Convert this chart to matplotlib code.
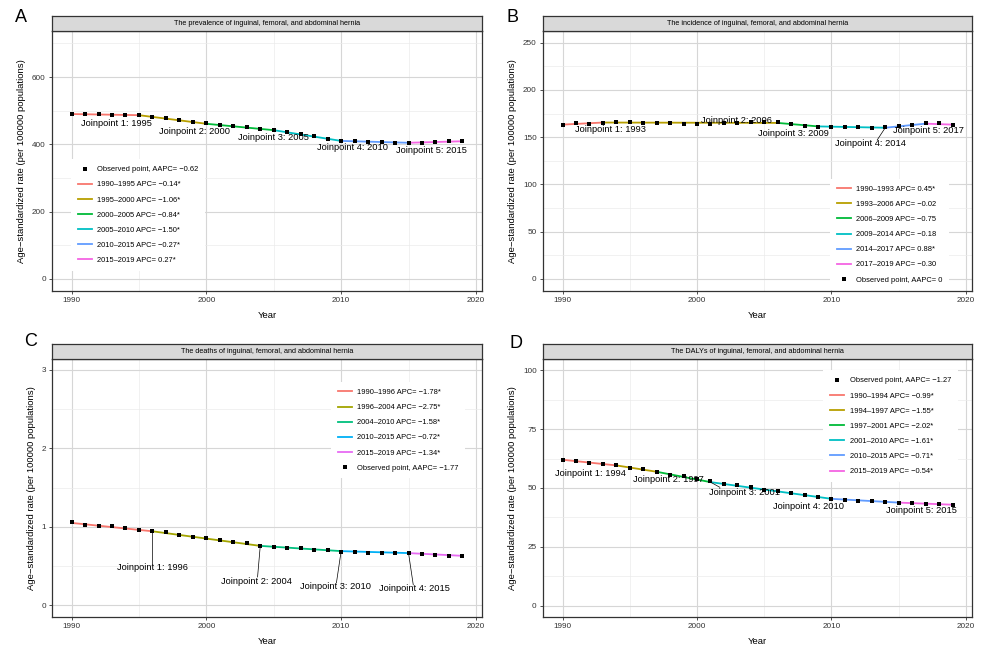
import numpy as np
import matplotlib.pyplot as plt
from matplotlib.lines import Line2D

plt.rcParams['font.family'] = ['Liberation Sans', 'DejaVu Sans']

years = np.arange(1990, 2020)

# ---- A: prevalence
prev_obs = [490, 490, 489, 488, 488, 487, 482, 478, 472, 467,
            462, 458, 454, 450, 446, 442, 436, 430, 424, 416,
            410, 410, 407, 406, 404, 403, 405, 406, 410, 410]
prev_jp_years = [1990, 1995, 2000, 2005, 2010, 2015, 2019]
prev_jp_fit = [490, 486.6, 461, 442, 410, 404.5, 409]
prev_seg_labels = ["1990\u20131995 APC= \u22120.14*", "1995\u20132000 APC= \u22121.06*",
                   "2000\u20132005 APC= \u22120.84*", "2005\u20132010 APC= \u22121.50*",
                   "2010\u20132015 APC= \u22120.27*", "2015\u20132019 APC= 0.27*"]
prev_obs_label = "Observed point, AAPC= \u22120.62"

# ---- B: incidence
inc_obs = [163.4, 164.8, 164.4, 165.5, 165.6, 165.6, 165.5, 165.4, 165.2, 164.2,
           164.2, 164.3, 165.0, 165.4, 165.6, 165.7, 165.8, 164.4, 162.3, 161.2,
           161.0, 161.0, 160.5, 160.0, 160.5, 161.6, 162.6, 164.8, 164.8, 163.4]
inc_jp_years = [1990, 1993, 2006, 2009, 2014, 2017, 2019]
inc_jp_fit = [163.3, 165.5, 165.1, 161.4, 160.0, 164.3, 163.3]
inc_seg_labels = ["1990\u20131993 APC= 0.45*", "1993\u20132006 APC= \u22120.02",
                  "2006\u20132009 APC= \u22120.75", "2009\u20132014 APC= \u22120.18",
                  "2014\u20132017 APC= 0.88*", "2017\u20132019 APC= \u22120.30"]
inc_obs_label = "Observed point, AAPC= 0"

# ---- C: deaths
death_obs = [1.057, 1.027, 1.014, 1.006, 0.989, 0.963, 0.942, 0.929, 0.900, 0.874,
             0.853, 0.827, 0.802, 0.789, 0.760, 0.747, 0.734, 0.726, 0.709, 0.700,
             0.683, 0.683, 0.670, 0.670, 0.670, 0.662, 0.653, 0.645, 0.632, 0.632]
death_jp_years = [1990, 1996, 2004, 2010, 2015, 2019]
death_jp_fit = [1.050, 0.943, 0.757, 0.690, 0.665, 0.630]
death_seg_labels = ["1990\u20131996 APC= \u22121.78*", "1996\u20132004 APC= \u22122.75*",
                    "2004\u20132010 APC= \u22121.58*", "2010\u20132015 APC= \u22120.72*",
                    "2015\u20132019 APC= \u22121.34*"]
death_obs_label = "Observed point, AAPC= \u22121.77"

# ---- D: DALYs
daly_obs = [62.0, 61.5, 60.8, 60.3, 59.6, 58.7, 57.9, 57.0, 55.7, 55.0,
            53.7, 52.9, 51.9, 51.2, 50.3, 49.3, 48.6, 47.8, 46.9, 46.1,
            45.4, 44.9, 44.5, 44.5, 44.2, 43.8, 43.5, 43.4, 43.4, 42.8]
daly_jp_years = [1990, 1994, 1997, 2001, 2010, 2015, 2019]
daly_jp_fit = [62.0, 59.6, 56.9, 52.5, 45.4, 43.8, 42.9]
daly_seg_labels = ["1990\u20131994 APC= \u22120.99*", "1994\u20131997 APC= \u22121.55*",
                   "1997\u20132001 APC= \u22122.02*", "2001\u20132010 APC= \u22121.61*",
                   "2010\u20132015 APC= \u22120.71*", "2015\u20132019 APC= \u22120.54*"]
daly_obs_label = "Observed point, AAPC= \u22121.27"

hue6 = ["#F8766D", "#B79F00", "#00BA38", "#00BFC4", "#619CFF", "#F564E3"]
hue5 = ["#F8766D", "#A3A500", "#00BF7D", "#00B0F6", "#E76BF3"]


def draw_panel(fig, rect, letter, letter_xy, title, obs, jp_years, jp_fit,
               seg_labels, obs_label, obs_first, palette, ylim, ymajor, yminor,
               leg_anchor, jp_text, jp_links):
    left, bottom, width, height = rect
    ax = fig.add_axes(rect)
    strip_h = 15.5 / 658
    sax = fig.add_axes([left, bottom + height, width, strip_h])
    sax.set_xticks([])
    sax.set_yticks([])
    sax.set_facecolor("#D9D9D9")
    for sp in sax.spines.values():
        sp.set_color("#333333")
        sp.set_linewidth(0.9)
    sax.text(0.5, 0.5, title, ha="center", va="center", fontsize=5.2,
             transform=sax.transAxes)
    fig.text(letter_xy[0], letter_xy[1], letter, fontsize=13, ha="center", va="center")

    # grid
    for x in [1990, 2000, 2010, 2020]:
        ax.axvline(x, color="#D6D6D6", lw=0.8, zorder=0)
    for x in [1995, 2005, 2015]:
        ax.axvline(x, color="#EBEBEB", lw=0.5, zorder=0)
    for y in ymajor:
        ax.axhline(y, color="#D6D6D6", lw=0.8, zorder=0)
    for y in yminor:
        ax.axhline(y, color="#EBEBEB", lw=0.5, zorder=0)

    seg_handles = []
    for i in range(len(jp_years) - 1):
        ax.plot(jp_years[i:i + 2], jp_fit[i:i + 2], color=palette[i], lw=1.3,
                zorder=2, solid_capstyle="butt")
        seg_handles.append(Line2D([], [], color=palette[i], lw=1.3))
    ax.plot(years, obs, ls="none", marker="s", ms=2.4, mew=0, color="black", zorder=3)
    obs_handle = Line2D([], [], ls="none", marker="s", ms=2.6, mew=0, color="black")

    # joinpoint labels
    for k, yr in enumerate(jp_years[1:-1]):
        tx, ty = jp_text[k]
        if k in jp_links:
            lx, ly = jp_links[k]
            ax.plot([yr, lx], [jp_fit[k + 1], ly], color="black", lw=0.5, zorder=2)
        ax.text(tx, ty, "Joinpoint %d: %d" % (k + 1, yr), fontsize=6.7,
                ha="center", va="center", zorder=4)

    if obs_first:
        handles = [obs_handle] + seg_handles
        labels = [obs_label] + seg_labels
    else:
        handles = seg_handles + [obs_handle]
        labels = seg_labels + [obs_label]
    leg = ax.legend(handles, labels, loc="upper left", bbox_to_anchor=leg_anchor,
                    fontsize=5.4, frameon=True, fancybox=False, framealpha=1,
                    edgecolor="none", labelspacing=1.05, handlelength=1.9,
                    handletextpad=0.7, borderpad=0.9)
    leg.set_zorder(5)

    ax.set_xlim(1988.55, 2020.45)
    ax.set_ylim(*ylim)
    ax.set_xticks([1990, 2000, 2010, 2020])
    ax.set_yticks(ymajor)
    ax.tick_params(labelsize=5.9, length=2.5, width=0.6, color="#333333",
                   labelcolor="#333333", pad=2)
    for sp in ax.spines.values():
        sp.set_color("#333333")
        sp.set_linewidth(0.9)
    ax.set_xlabel("Year", fontsize=6.8, labelpad=5)
    ax.set_ylabel("Age\u2212standardized rate (per 100000 populations)", fontsize=6.8,
                  labelpad=4)
    return ax


fig = plt.figure(figsize=(10.07, 6.58), dpi=100)

W, H = 1007, 658
rectA = [52 / W, (H - 290.5) / H, 430 / W, 259.5 / H]
rectB = [543 / W, (H - 290.5) / H, 429 / W, 259.5 / H]
rectC = [52 / W, (H - 617) / H, 430 / W, 258 / H]
rectD = [543 / W, (H - 617) / H, 429 / W, 258 / H]

draw_panel(fig, rectA, "A", (21 / W, 1 - 17 / H),
           "The prevalence of inguinal, femoral, and abdominal hernia",
           prev_obs, prev_jp_years, prev_jp_fit, prev_seg_labels, prev_obs_label,
           True, hue6, (-35, 737), [0, 200, 400, 600], [100, 300, 500, 700],
           (0.035, 0.52),
           [(1993.3, 462), (1999.1, 438.6), (2005.0, 419.6), (2010.85, 389), (2016.7, 382)],
           {})

draw_panel(fig, rectB, "B", (512 / W, 1 - 17 / H),
           "The incidence of inguinal, femoral, and abdominal hernia",
           inc_obs, inc_jp_years, inc_jp_fit, inc_seg_labels, inc_obs_label,
           False, hue6, (-12.5, 262.5), [0, 50, 100, 150, 200, 250],
           [25, 75, 125, 175, 225],
           (0.66, 0.445),
           [(1993.56, 158), (2002.95, 168), (2007.15, 153.5), (2012.9, 142.9), (2017.2, 156.6)],
           {3: (2013.4, 147)})

draw_panel(fig, rectC, "C", (31 / W, 1 - 342 / H),
           "The deaths of inguinal, femoral, and abdominal hernia",
           death_obs, death_jp_years, death_jp_fit, death_seg_labels, death_obs_label,
           False, hue5, (-0.15, 3.14), [0, 1, 2, 3], [0.5, 1.5, 2.5],
           (0.64, 0.925),
           [(1996.0, 0.479), (2003.72, 0.305), (2009.58, 0.233), (2015.43, 0.208)],
           {0: (1996.0, 0.53), 1: (2003.8, 0.36), 2: (2009.65, 0.285), 3: (2015.35, 0.26)})

draw_panel(fig, rectD, "D", (516 / W, 1 - 343 / H),
           "The DALYs of inguinal, femoral, and abdominal hernia",
           daly_obs, daly_jp_years, daly_jp_fit, daly_seg_labels, daly_obs_label,
           True, hue6, (-4.8, 104.8), [0, 25, 50, 75, 100], [12.5, 37.5, 62.5, 87.5],
           (0.645, 0.97),
           [(1992.1, 56.2), (1997.9, 53.6), (2003.5, 48.1), (2008.3, 42.3), (2016.7, 40.4)],
           {2: (2001.7, 50.3)})

fig.savefig("out.png", dpi=100)
